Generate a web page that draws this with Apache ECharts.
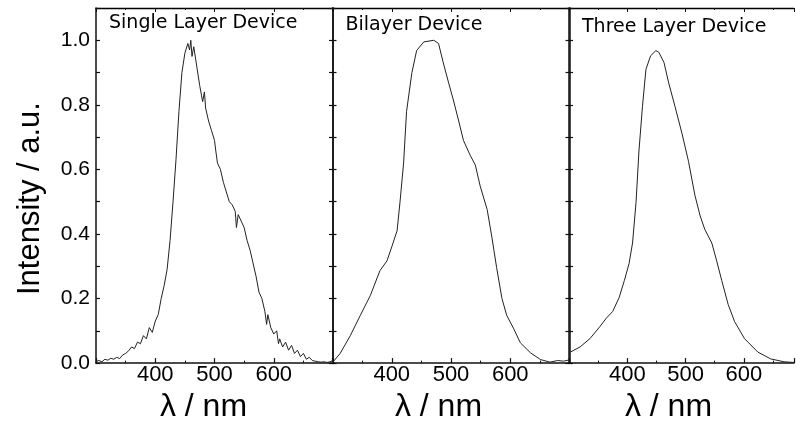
<!DOCTYPE html>
<html>
<head>
<meta charset="utf-8">
<script src="https://cdn.jsdelivr.net/npm/echarts@6/dist/echarts.min.js"></script>
<style>
html,body{margin:0;padding:0;background:#fff;}
#chart{width:797px;height:428px;}
</style>
</head>
<body>
<div id="chart"></div>
<script>
// ---- Data ----
const panelTitles = ['Single Layer Device', 'Bilayer Device', 'Three Layer Device'];
const xTickLabels = [400, 500, 600];
const yTickLabels = ['0.0', '0.2', '0.4', '0.6', '0.8', '1.0'];
const yAxisName = 'Intensity / a.u.';
const xAxisName = 'λ / nm';
const xMins = [300, 300, 300];
const xMaxs = [700, 700, 686];

// Single layer device (noisy spectrum)
const wl1 = [300,305,310,315,320,325,330,335,340,345,350,355,360,365,370,375,380,385,390,395,400,405,410,415,420,425,430,435,440,445,450,455,458,460,462,465,470,475,478,480,483,485,490,495,500,502,505,510,515,520,525,530,535,537,540,545,550,555,560,565,570,575,580,585,588,590,595,600,605,608,610,615,620,625,630,635,640,645,650,655,660,665,670,675,680,685,690,695,700];
const int1 = [0.005,0.008,0.004,0.012,0.009,0.015,0.012,0.018,0.014,0.025,0.03,0.038,0.05,0.045,0.065,0.06,0.085,0.075,0.11,0.095,0.13,0.15,0.2,0.24,0.29,0.38,0.5,0.63,0.78,0.9,0.96,0.99,0.97,1.0,0.95,0.98,0.92,0.86,0.83,0.81,0.84,0.79,0.75,0.72,0.69,0.66,0.62,0.6,0.56,0.53,0.5,0.49,0.47,0.42,0.46,0.44,0.42,0.38,0.35,0.31,0.27,0.22,0.2,0.16,0.12,0.15,0.11,0.09,0.1,0.06,0.075,0.05,0.065,0.04,0.055,0.03,0.04,0.02,0.03,0.012,0.018,0.008,0.006,0.004,0.003,0.004,0.002,0.004,0.008];

// Bilayer device
const wl2 = [300,313,330,347,364,380,392,400,409,414,420,425,434,442,454,471,479,487,496,504,513,521,532,541,549,561,569,577,586,594,606,617,634,651,667,680,690,700];
const int2 = [0.002,0.03,0.085,0.148,0.21,0.286,0.317,0.36,0.41,0.5,0.62,0.78,0.9,0.968,0.995,1.0,0.99,0.93,0.868,0.815,0.75,0.69,0.645,0.614,0.55,0.476,0.39,0.296,0.2,0.148,0.106,0.063,0.032,0.011,0.003,0.008,0.006,0.01];

// Three layer device
const wl3 = [300,319,336,353,364,375,386,395,403,409,415,420,426,432,440,449,454,463,471,482,494,505,516,525,533,545,553,562,573,584,601,624,646,669,686];
const int3 = [0.032,0.05,0.076,0.113,0.139,0.16,0.203,0.256,0.308,0.372,0.498,0.657,0.794,0.91,0.952,0.968,0.963,0.931,0.868,0.794,0.71,0.625,0.52,0.456,0.414,0.372,0.319,0.256,0.182,0.129,0.076,0.034,0.013,0.004,0.002];

const wls = [wl1, wl2, wl3];
const ints = [int1, int2, int3];

// ---- Layout ----
const gridLefts = [96, 332.5, 569];
const gridWidths = [237, 237, 228];
const gridTop = 8;
const gridHeight = 359;
const nameShift = [22, 25, 26];
const titleTops = [14, 16, 18];

const lineCol = '#111';
const grids = [], xAxes = [], yAxes = [], series = [], titles = [];

for (let i = 0; i < 3; i++) {
  grids.push({left: gridLefts[i], top: gridTop, width: gridWidths[i], height: gridHeight, show: false});
  // bottom x axis
  xAxes.push({
    type: 'value', gridIndex: i, min: xMins[i], max: xMaxs[i], interval: 100, position: 'bottom',
    axisLine: {show: true, onZero: false, lineStyle: {color: lineCol, width: 1.5}},
    axisTick: {show: true, inside: true, length: 5, lineStyle: {color: lineCol, width: 1.2}},
    minorTick: {show: true, splitNumber: 2, length: 2.5, lineStyle: {color: lineCol, width: 1}},
    splitLine: {show: false},
    axisLabel: {
      show: true, margin: 1, color: '#000', fontSize: 22, fontFamily: 'Liberation Sans',
      formatter: v => xTickLabels.includes(Math.round(v)) ? String(Math.round(v)) : ''
    },
    name: xAxisName, nameLocation: 'middle', nameGap: 25,
    nameTextStyle: {fontSize: 32, fontFamily: 'Liberation Sans', color: '#000', padding: [0, nameShift[i], 0, 0]}
  });
  // top x axis (frame with ticks)
  xAxes.push({
    type: 'value', gridIndex: i, min: xMins[i], max: xMaxs[i], interval: 100, position: 'top',
    axisLine: {show: true, onZero: false, lineStyle: {color: '#000', width: 1.3}},
    axisTick: {show: true, inside: true, length: 4, lineStyle: {color: lineCol, width: 1}},
    minorTick: {show: true, splitNumber: 2, length: 2, lineStyle: {color: lineCol, width: 1}},
    splitLine: {show: false}, axisLabel: {show: false}
  });
  // left y axis
  yAxes.push({
    type: 'value', gridIndex: i, min: 0, max: 1.1, interval: 0.1, position: 'left',
    axisLine: {show: true, onZero: false, lineStyle: {color: lineCol, width: 1.5}},
    axisTick: {show: true, inside: true, length: 4, lineStyle: {color: lineCol, width: 1.2}},
    splitLine: {show: false},
    axisLabel: {
      show: i === 0, margin: 6, color: '#000', fontSize: 21, fontFamily: 'Liberation Sans',
      formatter: v => { const s = v.toFixed(1); return yTickLabels.includes(s) ? s : ''; }
    },
    name: i === 0 ? yAxisName : '', nameLocation: 'middle', nameGap: 50,
    nameTextStyle: {fontSize: 31, fontFamily: 'Liberation Sans', color: '#000', padding: [0, 26, 0, 0]}
  });
  // right y axis (panel 3's right edge lies outside the picture)
  yAxes.push({
    type: 'value', gridIndex: i, min: 0, max: 1.1, interval: 0.1, position: 'right', show: i < 2,
    axisLine: {show: true, onZero: false, lineStyle: {color: lineCol, width: 1.5}},
    axisTick: {show: true, inside: true, length: 4, lineStyle: {color: lineCol, width: 1.2}},
    splitLine: {show: false}, axisLabel: {show: false}
  });
  series.push({
    type: 'line', xAxisIndex: i * 2, yAxisIndex: i * 2, showSymbol: false, symbol: 'none',
    lineStyle: {color: '#222', width: 1}, animation: false,
    data: wls[i].map((w, k) => [w, ints[i][k]])
  });
  titles.push({
    text: panelTitles[i], left: gridLefts[i] + 13, top: titleTops[i], padding: 0,
    textStyle: {fontSize: 19, fontWeight: 'normal', fontFamily: 'DejaVu Sans', color: '#000'}
  });
}

const chart = echarts.init(document.getElementById('chart'), null, {renderer: 'canvas'});
chart.setOption({
  backgroundColor: '#fff',
  animation: false,
  title: titles,
  grid: grids,
  xAxis: xAxes,
  yAxis: yAxes,
  series: series
});
</script>
</body>
</html>
